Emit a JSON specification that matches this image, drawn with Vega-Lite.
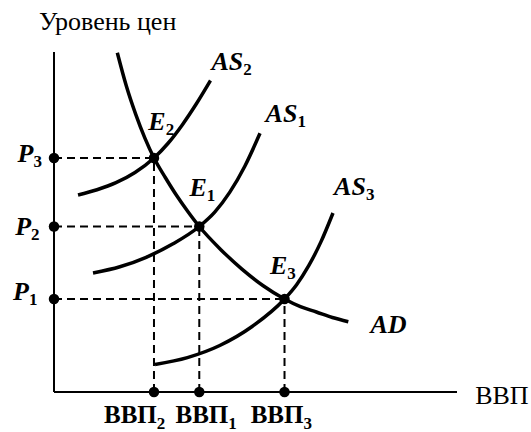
{
  "$schema": "https://vega.github.io/schema/vega-lite/v6.json",
  "width": 403,
  "height": 340,
  "autosize": {"type": "none"},
  "padding": {"left": 54, "top": 52, "right": 74, "bottom": 40},
  "background": "white",
  "config": {"view": {"stroke": null}, "text": {"font": "Liberation Serif, Times New Roman, serif"}},
  "datasets": {
    "curves": [
      {"curve": "AD", "q": 15.71, "p": 99.79},
      {"curve": "AD", "q": 17.99, "p": 89.85},
      {"curve": "AD", "q": 20.26, "p": 81.74},
      {"curve": "AD", "q": 22.53, "p": 74.74},
      {"curve": "AD", "q": 24.81, "p": 68.82},
      {"curve": "AD", "q": 27.62, "p": 63.09},
      {"curve": "AD", "q": 30.43, "p": 57.79},
      {"curve": "AD", "q": 33.25, "p": 53.03},
      {"curve": "AD", "q": 36.05, "p": 48.68},
      {"curve": "AD", "q": 41.34, "p": 41.94},
      {"curve": "AD", "q": 46.63, "p": 36.15},
      {"curve": "AD", "q": 51.91, "p": 31.26},
      {"curve": "AD", "q": 57.2, "p": 27.35},
      {"curve": "AD", "q": 61.15, "p": 25.09},
      {"curve": "AD", "q": 65.11, "p": 23.53},
      {"curve": "AD", "q": 69.07, "p": 21.9},
      {"curve": "AD", "q": 73.03, "p": 20.68},
      {"curve": "AS2", "q": 5.96, "p": 57.94},
      {"curve": "AS2", "q": 10.67, "p": 59.48},
      {"curve": "AS2", "q": 15.38, "p": 61.56},
      {"curve": "AS2", "q": 20.1, "p": 64.56},
      {"curve": "AS2", "q": 24.81, "p": 68.82},
      {"curve": "AS2", "q": 28.31, "p": 73.16},
      {"curve": "AS2", "q": 31.82, "p": 78.56},
      {"curve": "AS2", "q": 35.33, "p": 84.78},
      {"curve": "AS2", "q": 38.83, "p": 91.62},
      {"curve": "AS1", "q": 9.68, "p": 35.0},
      {"curve": "AS1", "q": 16.35, "p": 36.83},
      {"curve": "AS1", "q": 22.87, "p": 39.62},
      {"curve": "AS1", "q": 29.43, "p": 43.51},
      {"curve": "AS1", "q": 36.05, "p": 48.68},
      {"curve": "AS1", "q": 39.83, "p": 52.83},
      {"curve": "AS1", "q": 43.59, "p": 58.71},
      {"curve": "AS1", "q": 47.35, "p": 66.41},
      {"curve": "AS1", "q": 51.12, "p": 76.09},
      {"curve": "AS3", "q": 25.06, "p": 8.09},
      {"curve": "AS3", "q": 33.1, "p": 10.12},
      {"curve": "AS3", "q": 41.13, "p": 13.68},
      {"curve": "AS3", "q": 49.16, "p": 19.26},
      {"curve": "AS3", "q": 57.2, "p": 27.35},
      {"curve": "AS3", "q": 60.2, "p": 31.57},
      {"curve": "AS3", "q": 63.21, "p": 37.15},
      {"curve": "AS3", "q": 66.23, "p": 44.15},
      {"curve": "AS3", "q": 69.23, "p": 52.65}
    ],
    "eq": [
      {"name": "E2", "q": 24.81, "p": 68.82},
      {"name": "E1", "q": 36.05, "p": 48.68},
      {"name": "E3", "q": 57.2, "p": 27.35}
    ],
    "axes": [
      {"q": 0, "p": 0, "q2": 0, "p2": 100},
      {"q": 0, "p": 0, "q2": 100, "p2": 0}
    ],
    "italic": [
      {"b": "AS", "s": "2", "x": 46.97, "y": 94.7},
      {"b": "AS", "s": "1", "x": 60.4, "y": 79.3},
      {"b": "AS", "s": "3", "x": 77.4, "y": 57.9},
      {"b": "E", "s": "2", "x": 27.7, "y": 77.1},
      {"b": "E", "s": "1", "x": 37.9, "y": 57.6},
      {"b": "E", "s": "3", "x": 57.9, "y": 34.7},
      {"b": "AD", "s": "", "x": 87.5, "y": 17.4},
      {"b": "P", "s": "3", "x": -5.1, "y": 67.6},
      {"b": "P", "s": "2", "x": -5.7, "y": 46.2},
      {"b": "P", "s": "1", "x": -6.2, "y": 27.1}
    ],
    "bold": [
      {"b": "ВВП", "s": "2", "x": 25.5, "y": -9.2},
      {"b": "ВВП", "s": "1", "x": 43.25, "y": -9.2},
      {"b": "ВВП", "s": "3", "x": 61.9, "y": -9.2}
    ],
    "plain": [
      {"t": "Уровень цен", "x": 13.3, "y": 106.6, "a": "center"},
      {"t": "ВВП", "x": 104.5, "y": -3.5, "a": "left"}
    ]
  },
  "layer": [
    {
      "data": {"name": "eq"},
      "transform": [{"calculate": "0", "as": "zero"}],
      "mark": {"type": "rule", "color": "black", "strokeWidth": 2, "strokeDash": [8, 5]},
      "encoding": {
        "x": {"field": "zero", "type": "quantitative", "scale": {"domain": [0, 100], "nice": false, "zero": false}, "axis": null},
        "x2": {"field": "q"},
        "y": {"field": "p", "type": "quantitative", "scale": {"domain": [0, 100], "nice": false, "zero": false}, "axis": null}
      }
    },
    {
      "data": {"name": "eq"},
      "transform": [{"calculate": "0", "as": "zero"}],
      "mark": {"type": "rule", "color": "black", "strokeWidth": 2, "strokeDash": [8, 5]},
      "encoding": {
        "x": {"field": "q", "type": "quantitative"},
        "y": {"field": "zero", "type": "quantitative"},
        "y2": {"field": "p"}
      }
    },
    {
      "data": {"name": "axes"},
      "mark": {"type": "rule", "color": "black", "strokeWidth": 2},
      "encoding": {
        "x": {"field": "q", "type": "quantitative"},
        "x2": {"field": "q2"},
        "y": {"field": "p", "type": "quantitative"},
        "y2": {"field": "p2"}
      }
    },
    {
      "data": {"name": "curves"},
      "mark": {"type": "line", "color": "black", "strokeWidth": 3.5, "interpolate": "monotone"},
      "encoding": {
        "x": {"field": "q", "type": "quantitative"},
        "y": {"field": "p", "type": "quantitative"},
        "detail": {"field": "curve", "type": "nominal"}
      }
    },
    {
      "data": {"name": "eq"},
      "transform": [{"calculate": "0", "as": "zero"}],
      "layer": [
        {
          "mark": {"type": "point", "filled": true, "color": "black", "size": 110, "opacity": 1},
          "encoding": {"x": {"field": "q", "type": "quantitative"}, "y": {"field": "p", "type": "quantitative"}}
        },
        {
          "mark": {"type": "point", "filled": true, "color": "black", "size": 110, "opacity": 1},
          "encoding": {"x": {"field": "zero", "type": "quantitative"}, "y": {"field": "p", "type": "quantitative"}}
        },
        {
          "mark": {"type": "point", "filled": true, "color": "black", "size": 110, "opacity": 1},
          "encoding": {"x": {"field": "q", "type": "quantitative"}, "y": {"field": "zero", "type": "quantitative"}}
        }
      ]
    },
    {
      "data": {"name": "italic"},
      "mark": {"type": "text", "fontSize": 26, "fontWeight": "bold", "fontStyle": "italic", "align": "right", "baseline": "alphabetic", "color": "black"},
      "encoding": {"x": {"field": "x", "type": "quantitative"}, "y": {"field": "y", "type": "quantitative"}, "text": {"field": "b"}}
    },
    {
      "data": {"name": "italic"},
      "mark": {"type": "text", "fontSize": 17, "fontWeight": "bold", "align": "left", "baseline": "alphabetic", "dy": 5, "color": "black"},
      "encoding": {"x": {"field": "x", "type": "quantitative"}, "y": {"field": "y", "type": "quantitative"}, "text": {"field": "s"}}
    },
    {
      "data": {"name": "bold"},
      "mark": {"type": "text", "fontSize": 25, "fontWeight": "bold", "align": "right", "baseline": "alphabetic", "color": "black"},
      "encoding": {"x": {"field": "x", "type": "quantitative"}, "y": {"field": "y", "type": "quantitative"}, "text": {"field": "b"}}
    },
    {
      "data": {"name": "bold"},
      "mark": {"type": "text", "fontSize": 17, "fontWeight": "bold", "align": "left", "baseline": "alphabetic", "dy": 6, "color": "black"},
      "encoding": {"x": {"field": "x", "type": "quantitative"}, "y": {"field": "y", "type": "quantitative"}, "text": {"field": "s"}}
    },
    {
      "data": {"name": "plain"},
      "transform": [{"filter": "datum.a === 'center'"}],
      "mark": {"type": "text", "fontSize": 26, "align": "center", "baseline": "alphabetic", "color": "black"},
      "encoding": {"x": {"field": "x", "type": "quantitative"}, "y": {"field": "y", "type": "quantitative"}, "text": {"field": "t"}}
    },
    {
      "data": {"name": "plain"},
      "transform": [{"filter": "datum.a === 'left'"}],
      "mark": {"type": "text", "fontSize": 26, "align": "left", "baseline": "alphabetic", "color": "black"},
      "encoding": {"x": {"field": "x", "type": "quantitative"}, "y": {"field": "y", "type": "quantitative"}, "text": {"field": "t"}}
    }
  ]
}
